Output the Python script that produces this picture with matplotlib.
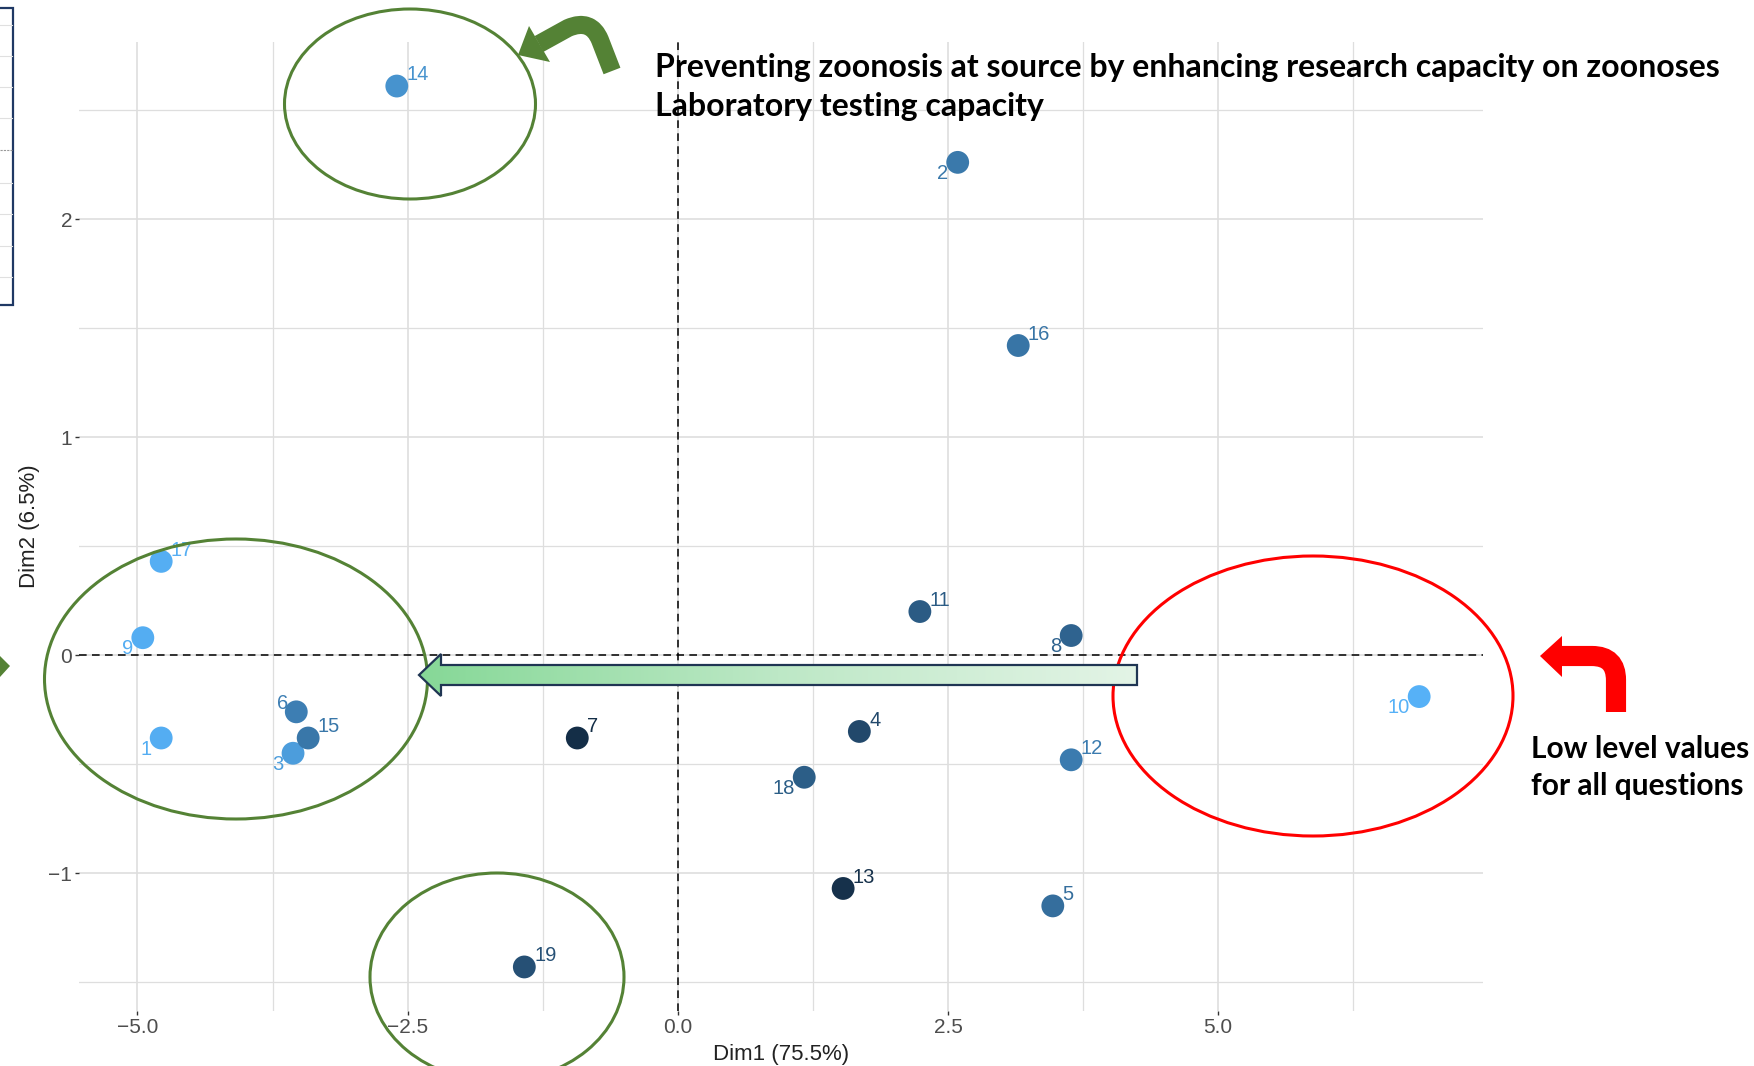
import matplotlib.pyplot as plt
import numpy as np
from matplotlib.patches import Ellipse, Polygon, PathPatch, Rectangle
from matplotlib.path import Path
from matplotlib.colors import LinearSegmentedColormap

# --- individuals on the first two PCA dimensions ---
ids = [str(i) for i in range(1, 20)]
dim1 = [-4.78, 2.59, -3.56, 1.68, 3.47, -3.53, -0.93, 3.64, -4.95, 6.86,
        2.24, 3.64, 1.53, -2.60, -3.42, 3.15, -4.78, 1.17, -1.42]
dim2 = [-0.38, 2.26, -0.45, -0.35, -1.15, -0.26, -0.38, 0.09, 0.08, -0.19,
        0.20, -0.48, -1.07, 2.61, -0.38, 1.42, 0.43, -0.56, -1.43]
cos2 = [0.97, 0.58, 0.85, 0.22, 0.50, 0.62, 0.02, 0.42, 0.97, 1.00,
        0.36, 0.60, 0.05, 0.77, 0.57, 0.55, 0.98, 0.38, 0.28]

x_ticks = [-5.0, -2.5, 0.0, 2.5, 5.0]
y_ticks = [-1, 0, 1, 2]
x_title = "Dim1 (75.5%)"
y_title = "Dim2 (6.5%)"

note_top = ["Preventing zoonosis at source by enhancing research capacity on zoonoses",
            "Laboratory testing capacity"]
note_right = ["Low level values", "for all questions"]

# where the repelled labels sit around their point
label_side = {"1": "ll", "2": "ll", "3": "ll", "6": "ul", "8": "ll", "9": "ll",
              "10": "ll", "18": "ll"}

W, H = 1754, 1066
fig = plt.figure(figsize=(W / 100, H / 100), dpi=100)
fig.patch.set_facecolor("white")

# ggplot-style 5% expansion of the data range
def expand(v, f=0.05):
    lo, hi = min(v), max(v)
    pad = (hi - lo) * f
    return lo - pad, hi + pad

xlim = expand(dim1)
ylim = expand(dim2)

# panel box in pixels
left, right, top, bottom = 79, 1483, 42, 1011
ax = fig.add_axes([left / W, 1 - bottom / H, (right - left) / W, (bottom - top) / H])
ax.set_xlim(*xlim)
ax.set_ylim(*ylim)
ax.set_facecolor("white")
for s in ax.spines.values():
    s.set_visible(False)

grid_c = "#DEDEDE"
for xv in x_ticks:
    ax.axvline(xv, color=grid_c, lw=1.2, zorder=0)
    ax.axvline(xv + 1.25, color=grid_c, lw=0.9, zorder=0)
for yv in y_ticks:
    ax.axhline(yv, color=grid_c, lw=1.2, zorder=0)
    ax.axhline(yv + 0.5, color=grid_c, lw=0.9, zorder=0)
ax.axhline(-1.5, color=grid_c, lw=0.9, zorder=0)

ax.axhline(0, color="black", lw=1.1, ls=(0, (5, 3.5)), zorder=1)
ax.axvline(0, color="black", lw=1.1, ls=(0, (5, 3.5)), zorder=1)

ax.set_xticks(x_ticks)
ax.set_xticklabels([f"{v:.1f}".replace("-", "\u2212") for v in x_ticks])
ax.set_yticks(y_ticks)
ax.set_yticklabels([str(v).replace("-", "\u2212") for v in y_ticks])
ax.tick_params(length=3, width=1, color="#333333", labelcolor="#4D4D4D",
               labelsize=15, pad=2)
for lab in ax.get_xticklabels() + ax.get_yticklabels():
    lab.set_family("Liberation Sans")
ax.set_xlabel(x_title, fontsize=16, family="Liberation Sans", color="#222222", labelpad=5)
ax.set_ylabel(y_title, fontsize=16, family="Liberation Sans", color="#222222", labelpad=6)

cmap = LinearSegmentedColormap.from_list("gg", ["#132B43", "#56B1F7"])
colors = cmap(np.array(cos2))
ax.scatter(dim1, dim2, s=270, c=colors, edgecolors="none", zorder=3)

offsets = {"ur": ((7, 4), "left"), "ll": ((-7, -12), "right"), "ul": ((-6, 2), "right")}
for name, xv, yv, c in zip(ids, dim1, dim2, colors):
    (dx, dy), ha = offsets[label_side.get(name, "ur")]
    ax.annotate(name, (xv, yv), xytext=(dx, dy), textcoords="offset points",
                ha=ha, va="baseline", fontsize=14.5, color=c,
                family="Liberation Sans", zorder=4)

# --- overlay drawn in pixel coordinates ---
ov = fig.add_axes([0, 0, 1, 1], zorder=5)
ov.set_xlim(0, W)
ov.set_ylim(H, 0)
ov.axis("off")
ov.patch.set_alpha(0)

green = "#548235"
for cx, cy, ew, eh in [(410, 104, 251, 190), (236, 679, 383, 280), (497, 977, 254, 208)]:
    ov.add_patch(Ellipse((cx, cy), ew, eh, fill=False, ec=green, lw=2.2, clip_on=False))
ov.add_patch(Ellipse((1313, 696), 400, 280, fill=False, ec="#FF0000", lw=2.2, clip_on=False))

# gradient block arrow pointing left
arrow_pts = [(419, 675), (441, 654), (441, 665), (1137, 665), (1137, 685),
             (441, 685), (441, 696)]
arrow = Polygon(arrow_pts, closed=True, fc="none", ec="#1F3553", lw=1.6, zorder=3)
grad = np.linspace(0, 1, 256)[None, :]
gcmap = LinearSegmentedColormap.from_list("gr", ["#86D897", "#BDE8C6", "#E3F4E6"])
img = ov.imshow(grad, cmap=gcmap, extent=(419, 1137, 696, 654), aspect="auto", zorder=2)
ov.add_patch(arrow)
img.set_clip_path(arrow)
ov.set_xlim(0, W)
ov.set_ylim(H, 0)

# bent green arrow near the top
shaft = Path([(612, 71), (600, 40), (591, 18), (568, 28), (539, 44)],
             [Path.MOVETO, Path.LINETO, Path.CURVE3, Path.CURVE3, Path.LINETO])
ov.add_patch(PathPatch(shaft, fc="none", ec=green, lw=13, capstyle="butt", joinstyle="round"))
ov.add_patch(Polygon([(518, 55), (529, 26), (550, 62)], closed=True, fc=green, ec="none"))

# bent red arrow on the right
shaft_r = Path([(1616, 712), (1616, 680), (1616, 656), (1592, 656), (1560, 656)],
               [Path.MOVETO, Path.LINETO, Path.CURVE3, Path.CURVE3, Path.LINETO])
ov.add_patch(PathPatch(shaft_r, fc="none", ec="#FF0000", lw=14.5, capstyle="butt"))
ov.add_patch(Polygon([(1540, 656), (1562, 636), (1562, 677)], closed=True, fc="#FF0000", ec="none"))

# partly visible neighbouring panel and arrow at the left edge
ov.add_patch(Rectangle((-5, 8), 18, 297, fill=False, ec="#1F3864", lw=1.6))
for gy in [25, 56, 87, 118, 183, 214, 246, 277]:
    ov.plot([0, 12], [gy, gy], color="#E0E0E0", lw=0.8)
ov.plot([0, 12], [150, 150], color="#999999", lw=0.8, ls=(0, (2, 1)))
ov.add_patch(Polygon([(0, 656), (10, 666), (0, 677)], closed=True, fc=green, ec="none"))

txt = dict(family="Lato", weight="bold", color="black", va="baseline")
ov.text(655, 77, note_top[0], fontsize=23, **txt)
ov.text(655, 116, note_top[1], fontsize=23, **txt)
ov.text(1531, 758, note_right[0], fontsize=21.5, **txt)
ov.text(1531, 795, note_right[1], fontsize=21.5, **txt)

fig.savefig("out.png", dpi=100)
